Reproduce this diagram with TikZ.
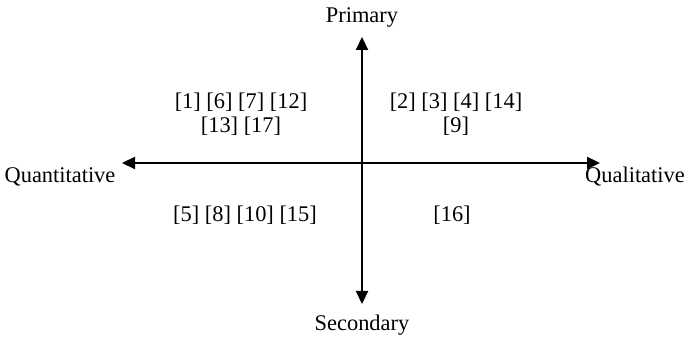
\documentclass[tikz,border=0pt]{standalone}
\usepackage{fontspec}
\setmainfont{Liberation Serif}
\usepackage{tikz}
\usetikzlibrary{arrows.meta,positioning,calc}

\begin{document}
\begin{tikzpicture}[
    x=0.5pt, y=-0.5pt,
    lbl/.style={font=\fontsize{11.2}{12}\selectfont, inner sep=1pt},
    refs/.style={lbl, align=center},
    axis/.style={{Triangle[length=6.5pt,width=6pt]}-{Triangle[length=6.5pt,width=6pt]}, line width=1.1pt},
]
\useasboundingbox (0,0) rectangle (686,341);

% Axis ends
\coordinate (top) at (362,37);
\coordinate (bot) at (362,304);
\coordinate (left) at (122,163);
\coordinate (right) at (600,163);
\draw[axis] (bot) -- (top);
\draw[axis] (left) -- (right);

% Axis labels
\node[lbl] (primary) at (362,18) {Primary};
\node[lbl] (secondary) at (362,325) {Secondary};
\node[lbl] (quant) at (60,177) {Quantitative};
\node[lbl] (qual) at (635,177) {Qualitative};

% References per quadrant
\node[refs] (q1) at (241,114) {[1] [6] [7] [12]\\{}[13] [17]};
\node[refs] (q2) at (456,114) {[2] [3] [4] [14]\\{}[9]};
\node[refs] (q3) at (245,215) {[5] [8] [10] [15]};
\node[refs] (q4) at (452,215) {[16]};

\end{tikzpicture}
\end{document}
